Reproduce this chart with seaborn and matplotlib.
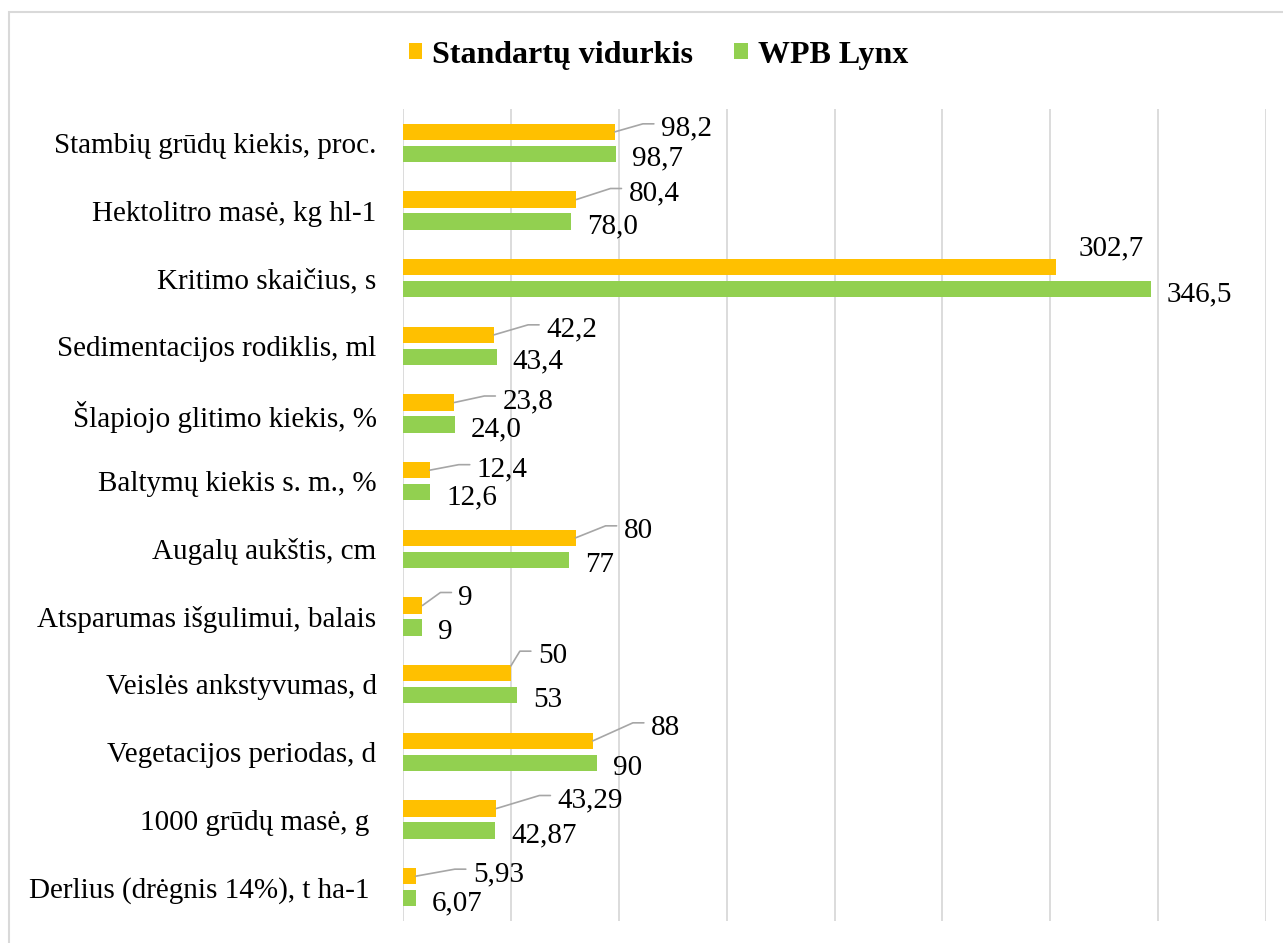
import numpy as np
import pandas as pd
import seaborn as sns
import matplotlib
matplotlib.use("Agg")
import matplotlib.pyplot as plt
from matplotlib.patches import Patch, Rectangle
from matplotlib.lines import Line2D
from matplotlib.transforms import IdentityTransform

categories = [
    "Stambių grūdų kiekis, proc.",
    "Hektolitro masė, kg hl-1",
    "Kritimo skaičius, s",
    "Sedimentacijos rodiklis, ml",
    "Šlapiojo glitimo kiekis, %",
    "Baltymų kiekis s. m., %",
    "Augalų aukštis, cm",
    "Atsparumas išgulimui, balais",
    "Veislės ankstyvumas, d",
    "Vegetacijos periodas, d",
    "1000 grūdų masė, g ",
    "Derlius (drėgnis 14%), t ha-1 ",
]
series_names = ["Standartų vidurkis", "WPB Lynx"]
standard_values = [98.2, 80.4, 302.7, 42.2, 23.8, 12.4, 80, 9, 50, 88, 43.29, 5.93]
lynx_values = [98.7, 78.0, 346.5, 43.4, 24.0, 12.6, 77, 9, 53, 90, 42.87, 6.07]
standard_labels = ["98,2", "80,4", "302,7", "42,2", "23,8", "12,4", "80", "9", "50", "88", "43,29", "5,93"]
lynx_labels = ["98,7", "78,0", "346,5", "43,4", "24,0", "12,6", "77", "9", "53", "90", "42,87", "6,07"]

# label offsets (pixels, image-down positive) for the orange labels – styling only
std_label_offsets = [(46, -6), (52, -9), (22, -22), (52, -8), (48, -4.5), (47, -3.5),
                     (48, -10), (36, -11), (27, -20), (58, -16), (61, -11), (57, -5)]

W, H = 1283, 943
DPI = 100

sns.set_style("white")
plt.rcParams["font.family"] = ["Liberation Serif", "DejaVu Serif"]

df = pd.DataFrame({
    "category": categories * 2,
    "value": standard_values + lynx_values,
    "series": [series_names[0]] * len(categories) + [series_names[1]] * len(categories),
})

colors = {"Standartų vidurkis": "#FFC000", "WPB Lynx": "#92D050"}

fig = plt.figure(figsize=(W / DPI, H / DPI), dpi=DPI)
ax_left, ax_right, ax_top, ax_bot = 403, 1266, 109, 921
ax = fig.add_axes([ax_left / W, 1 - ax_bot / H, (ax_right - ax_left) / W, (ax_bot - ax_top) / H])

sns.barplot(data=df, y="category", x="value", hue="series", order=categories,
            hue_order=series_names, palette=colors, orient="h", width=0.65, gap=0.25,
            ax=ax, legend=False, linewidth=0, saturation=1)

ax.set_xlim(0, 400)
ax.set_ylim(len(categories) - 0.5, -0.5)
ax.set_xticks(np.arange(0, 401, 50))
ax.set_xticklabels([])
ax.grid(axis="x", color="#d9d9d9", linewidth=1.3)
ax.grid(axis="y", visible=False)
ax.set_axisbelow(True)
for s in ax.spines.values():
    s.set_visible(False)
ax.tick_params(axis="both", length=0)
ax.tick_params(axis="y", pad=19, labelsize=21, labelcolor="black")
ax.set_xlabel("")
ax.set_ylabel("")

fs = 21
baseline_shift = 10  # px from visual centre of digits to baseline

def to_img(x, y):
    px, py = ax.transData.transform((x, y))
    return px, H - py

std_bars = ax.containers[0]
lynx_bars = ax.containers[1]

for i, bar in enumerate(std_bars):
    xe = bar.get_x() + bar.get_width()
    yc = bar.get_y() + bar.get_height() / 2
    ytop = bar.get_y()
    ex, ey = to_img(xe, yc)
    _, etop = to_img(xe, ytop)
    dx, dy = std_label_offsets[i]
    lx = ex + dx
    ly = ey + dy
    fig.text(lx, H - (ly + baseline_shift), standard_labels[i], transform=IdentityTransform(),
             fontsize=fs, ha="left", va="baseline", color="black")
    if dx > 25:
        if abs(dy) > dx * 0.6:
            sx, sy = ex, etop + 1
        else:
            sx, sy = ex, ey
        line_y = ly - 2
        xs = [sx, lx - 18, lx - 7]
        ys = [sy, line_y, line_y]
        fig.add_artist(Line2D(xs, [H - v for v in ys], transform=IdentityTransform(),
                              color="#a6a6a6", linewidth=1.2))

for i, bar in enumerate(lynx_bars):
    xe = bar.get_x() + bar.get_width()
    yc = bar.get_y() + bar.get_height() / 2
    ex, ey = to_img(xe, yc)
    lx = ex + 16
    ly = ey + 2
    fig.text(lx, H - (ly + baseline_shift), lynx_labels[i], transform=IdentityTransform(),
             fontsize=fs, ha="left", va="baseline", color="black")

handles = [Patch(facecolor=colors[n], edgecolor="none", label=n) for n in series_names]
fig.legend(handles=handles, loc="center", bbox_to_anchor=(658.5 / W, 1 - 55 / H), ncol=2,
           frameon=False, prop={"family": "Liberation Serif", "weight": "bold", "size": 23},
           labelcolor="black", handlelength=0.42, handleheight=0.42, handletextpad=0.32,
           columnspacing=1.28)

# chart-area border
fig.add_artist(Rectangle((9 / W, -0.05), 1.2, 1 - 12 / H + 0.05, transform=fig.transFigure,
                         fill=False, edgecolor="#d9d9d9", linewidth=1.5))

fig.savefig("out.png", dpi=DPI)
